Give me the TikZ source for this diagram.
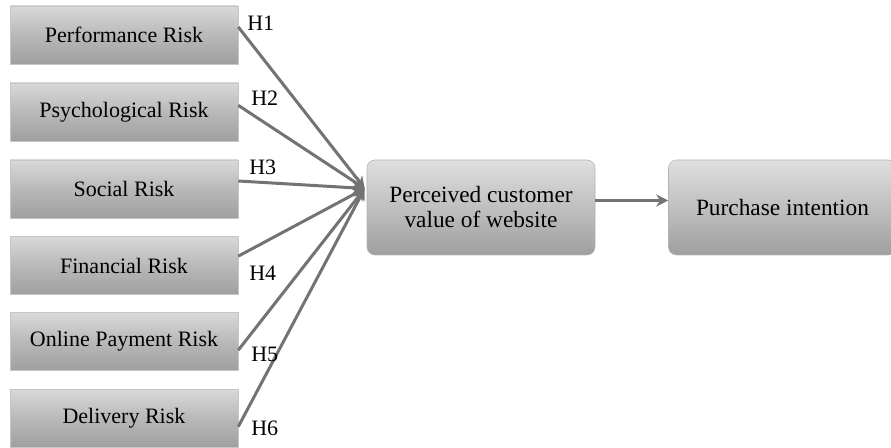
\documentclass[tikz,border=0pt]{standalone}
\usepackage{fontspec}
\setmainfont{Liberation Serif}
\usetikzlibrary{arrows.meta,calc}

\tikzset{
    riskbox/.style={draw=gray!45, top color=gray!30, bottom color=gray!75, middle color=gray!55,
        minimum width=171pt, minimum height=43.5pt, inner sep=0pt, font=\fontsize{16.5}{18}\selectfont},
    bigbox/.style={draw=gray!60, rounded corners=6pt, top color=gray!25, bottom color=gray!75, middle color=gray!50,
        minimum width=171pt, minimum height=71.25pt, inner sep=0pt, align=center,
        font=\fontsize{17.5}{18.75}\selectfont},
    hline/.style={draw=gray!90!black, line width=2.25pt, -{Stealth[length=9pt,width=9pt]}},
    hlabel/.style={anchor=north west, inner sep=0.75pt, font=\fontsize{16.5}{18}\selectfont}
}

\begin{document}
\begin{tikzpicture}[x=0.75pt,y=0.75pt,yscale=-1,xscale=1]
        \useasboundingbox (0,0) rectangle (891,448);
        % Risk boxes
        \node [riskbox] (perf) at (124,35) {Performance Risk};
        \node [riskbox] (psych) at (124,112) {Psychological Risk};
        \node [riskbox] (soc) at (124,189) {Social Risk};
        \node [riskbox] (fin) at (124,265.5) {Financial Risk};
        \node [riskbox] (pay) at (124,341.5) {Online Payment Risk};
        \node [riskbox] (deliv) at (124,418) {Delivery Risk};
        % Mediator and outcome
        \node [bigbox] (value) at (481,207.5) {Perceived customer\\value of website};
        \node [bigbox] (intent) at (782.5,207.5) {Purchase intention};
        \coordinate (hub) at ($(value.west)+(-2,-19)$);
        
        % Hypothesis paths
        \draw [hline] ([yshift=-6pt]perf.east) -- (hub);
        \draw [hline] ([yshift=-5pt]psych.east) -- (hub);
        \draw [hline] ([yshift=-6pt]soc.east) -- (hub);
        \draw [hline] ([yshift=-7pt]fin.east) -- (hub);
        \draw [hline] ([yshift=6.5pt]pay.east) -- (hub);
        \draw [hline] ([yshift=6.5pt]deliv.east) -- (hub);
        \draw [hline] ([yshift=-5.25pt]value.east) -- ([yshift=-5.25pt]intent.west);
        
        % Text Node
        \node [hlabel] (h1) at (246,15) {H1};
        % Text Node
        \node [hlabel] (h2) at (250,90) {H2};
        % Text Node
        \node [hlabel] (h3) at (248,159) {H3};
        % Text Node
        \node [hlabel] (h4) at (248,265) {H4};
        % Text Node
        \node [hlabel] (h5) at (250,346) {H5};
        % Text Node
        \node [hlabel] (h6) at (250,420) {H6};
    \end{tikzpicture}
\end{document}
